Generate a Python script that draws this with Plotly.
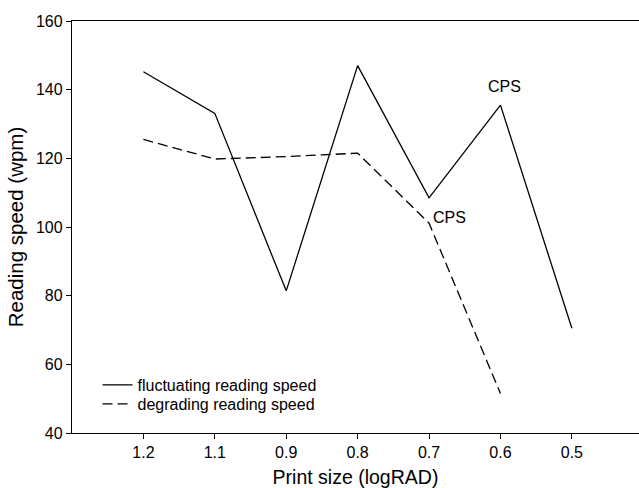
import plotly.graph_objects as go

categories = ["1.2", "1.1", "0.9", "0.8", "0.7", "0.6", "0.5"]
fluctuating = [145.2, 133.1, 81.4, 147.0, 108.5, 135.5, 70.5]
degrading = [125.5, 119.8, 120.5, 121.5, 101.1, 51.5]

pos = list(range(len(categories)))

fig = go.Figure()
fig.add_trace(go.Scatter(x=pos, y=fluctuating, mode="lines",
                         name="fluctuating reading speed", legend="legend",
                         line=dict(color="black", width=1.3)))
fig.add_trace(go.Scatter(x=pos[:len(degrading)], y=degrading, mode="lines",
                         name="degrading reading speed", legend="legend2",
                         line=dict(color="black", width=1.3, dash="10px,5px")))

fig.add_annotation(x=pos[5], y=fluctuating[5], text="CPS", showarrow=False,
                   yshift=19, xshift=4, font=dict(size=16, color="black"))
fig.add_annotation(x=pos[4], y=degrading[4], text="CPS", showarrow=False,
                   xanchor="left", yshift=6, xshift=2, font=dict(size=16, color="black"))

font_family = "Liberation Sans, Arial, sans-serif"
leg_common = dict(xanchor="left", yanchor="middle", bgcolor="rgba(0,0,0,0)",
                  font=dict(size=16), itemwidth=30)
fig.update_layout(
    width=639, height=488,
    margin=dict(l=72, r=0, t=21, b=55),
    paper_bgcolor="white", plot_bgcolor="white",
    font=dict(family=font_family, color="black"),
    showlegend=True,
    legend=dict(x=0.045, y=0.1165, **leg_common),
    legend2=dict(x=0.045, y=0.0704, **leg_common),
    xaxis=dict(range=[-1, 6.94], tickmode="array", tickvals=pos, ticktext=categories,
               showgrid=False, zeroline=False, showline=True, linecolor="black",
               linewidth=1.3, mirror=True, ticks="outside", ticklen=5, tickcolor="black",
               tickfont=dict(size=16), automargin=False,
               title=dict(text="Print size (logRAD)", font=dict(size=19.5), standoff=11)),
    yaxis=dict(range=[40, 160], tickvals=[40, 60, 80, 100, 120, 140, 160],
               showgrid=False, zeroline=False, showline=True, linecolor="black",
               linewidth=1.3, ticks="outside", ticklen=5, tickcolor="black",
               tickfont=dict(size=16), automargin=False,
               title=dict(text="Reading speed (wpm)", font=dict(size=20.5), standoff=6)),
)

fig.write_html("out.html", config={"displayModeBar": False},
               post_script="document.body.style.margin='0';")
